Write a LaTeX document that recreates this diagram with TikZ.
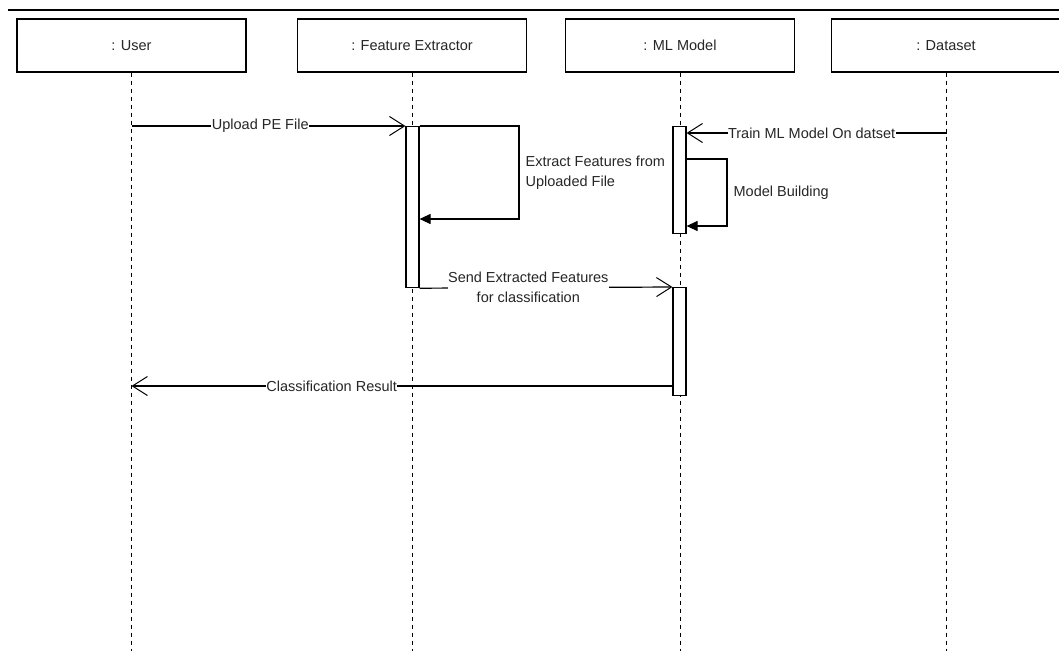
\documentclass[tikz,border=0pt]{standalone}
\usepackage{fontspec}
\setmainfont{Liberation Sans}
\usepackage{tikz}
\usetikzlibrary{
  arrows.meta,
  positioning,
  calc
}

\begin{document}
\begin{tikzpicture}[
  x=1pt, y=-1pt,
  font=\fontsize{14.5}{20}\selectfont,
  headbox/.style={
    rectangle, draw, line width=1.2pt, fill=white,
    minimum width=229pt, minimum height=53pt,
    inner sep=0pt, text=black!85
  },
  actbar/.style={
    rectangle, draw, line width=1.2pt, fill=white,
    minimum width=13pt, inner sep=0pt, anchor=north
  },
  lifeline/.style={
    line width=1pt, dash pattern=on 4pt off 4pt
  },
  msg/.style={
    -{Straight Barb[length=15pt, width=19pt, line width=1pt]},
    line width=1.2pt
  },
  selfcall/.style={
    -{Triangle[length=11pt, width=10pt]}, line width=1.2pt
  },
  msglabel/.style={
    fill=white, inner sep=0.5pt, text=black!85, align=center
  },
  sidelabel/.style={
    right, inner sep=6pt, text=black!85, align=left
  }
]
  \useasboundingbox (0,0) rectangle (1059,651);

  % frame top
  \coordinate (frameL) at (8,10);
  \coordinate (frameR) at (1059,10);
  \draw[line width=1.2pt] (frameL) -- (frameR);

  % Lifeline heads
  \node[headbox] (user) at (131.5,45.5) {: User};
  \node[headbox] (fe) at (412,45.5) {: Feature Extractor};
  \node[headbox] (ml) at (680,45.5) {: ML Model};
  \node[headbox] (ds) at (946,45.5) {: Dataset};

  % Lifelines
  \coordinate (bottom) at (0,651);
  \foreach \n in {user,fe,ml,ds}
    \draw[lifeline] (\n.south) -- (\n.south |- bottom);

  % Activation bars
  \node[actbar, minimum height=161pt] (feAct) at (412.5,126) {};
  \node[actbar, minimum height=107pt] (mlAct1) at (679.5,126) {};
  \node[actbar, minimum height=108pt] (mlAct2) at (679.5,287) {};

  % Messages
  \coordinate (userUp) at (131.5,126);
  \draw[msg] (userUp) -- node[msglabel, pos=0.47] {Upload PE File}
    (feAct.north west);

  \coordinate (feLoopTop) at (519,126);
  \coordinate (feLoopBot) at (519,219);
  \draw[selfcall] (feAct.north east) -- (feLoopTop)
    -- node[sidelabel] {Extract Features from\\Uploaded File} (feLoopBot)
    -- (feAct.east |- feLoopBot);

  \coordinate (dsTrain) at (947,133);
  \draw[msg] (dsTrain) -- node[msglabel, pos=0.52] {Train ML Model On datset}
    (mlAct1.east |- dsTrain);

  \coordinate (mlLoopTop) at (727,159);
  \coordinate (mlLoopBot) at (727,226);
  \draw[selfcall] (mlAct1.east |- mlLoopTop) -- (mlLoopTop)
    -- node[sidelabel] {Model Building} (mlLoopBot)
    -- (mlAct1.east |- mlLoopBot);

  \draw[msg] (feAct.south east) -- node[msglabel, pos=0.43] {Send Extracted Features\\for classification}
    (mlAct2.north west);

  \coordinate (userRes) at (131.5,386);
  \draw[msg] (mlAct2.west |- userRes) -- node[msglabel, pos=0.63] {Classification Result}
    (userRes);
\end{tikzpicture}
\end{document}
